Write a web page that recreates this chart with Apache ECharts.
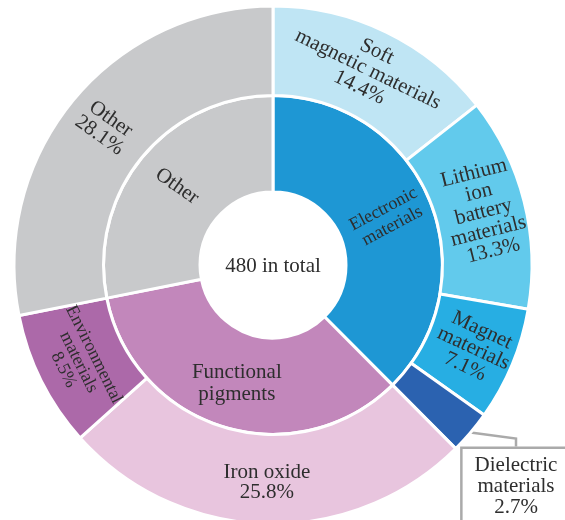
<!DOCTYPE html>
<html>
<head>
<meta charset="utf-8">
<script src="https://cdn.jsdelivr.net/npm/echarts@6/dist/echarts.min.js"></script>
<style>
  html, body { margin: 0; padding: 0; background: #fff; }
  #main { width: 565px; height: 520px; }
</style>
</head>
<body>
<div id="main"></div>
<script>
// data
const totalText = '480 in total';

const innerNames = ['Electronic\nmaterials', 'Functional\npigments', 'Other'];
const innerValues = [37.5, 34.3, 28.1];
const innerColors = ['#1e97d4', '#c287bb', '#c8c9cb'];

const outerNames = ['Soft\nmagnetic materials', 'Lithium\nion\nbattery\nmaterials', 'Magnet\nmaterials',
    'Dielectric\nmaterials', 'Iron oxide', 'Environmental\nmaterials', 'Other'];
const outerValues = [14.4, 13.3, 7.1, 2.7, 25.8, 8.5, 28.1];
const outerColors = ['#bfe5f4', '#62caec', '#27aee3', '#2b62b0', '#e8c5de', '#ac69a9', '#c8c9cb'];

// label rotation per slice (degrees or mode)
const innerRotate = [28, 0, -35];
const outerRotate = ['tangential', 'radial', -25, 0, 0, 'tangential', -35];
const innerFont = [18, 21, 21];
const outerFont = [21, 21, 21, 21, 21, 18, 21];

const font = 'Liberation Serif';
const textColor = '#2e2e2e';

const chart = echarts.init(document.getElementById('main'));

const innerData = innerNames.map((n, i) => ({
    name: n,
    value: innerValues[i],
    itemStyle: { color: innerColors[i] },
    label: { rotate: innerRotate[i], fontSize: innerFont[i], lineHeight: innerFont[i] + 1 }
}));

const outerData = outerNames.map((n, i) => {
    const item = {
        name: n,
        value: outerValues[i],
        itemStyle: { color: outerColors[i] },
        label: { rotate: outerRotate[i], fontSize: outerFont[i], lineHeight: outerFont[i] - 1 }
    };
    if (n.indexOf('Dielectric') === 0) {
        // callout box outside the ring
        item.label = {
            position: 'outside',
            rotate: 0,
            fontSize: 21,
            lineHeight: 21,
            backgroundColor: '#fff',
            borderColor: '#aaa',
            borderWidth: 2.5,
            padding: [6, 12, 14, 12]
        };
        item.labelLine = { show: true, length: 8, length2: 8, lineStyle: { color: '#aaa', width: 2.5 } };
    }
    return item;
});

const option = {
    animation: false,
    graphic: [{
        type: 'text',
        x: 273,
        y: 266,
        style: {
            text: totalText,
            font: '21px "' + font + '"',
            fill: textColor,
            textAlign: 'center',
            textVerticalAlign: 'middle'
        }
    }],
    series: [
        {
            type: 'pie',
            center: [273, 265],
            radius: [73, 169.5],
            startAngle: 90,
            clockwise: true,
            avoidLabelOverlap: false,
            silent: true,
            itemStyle: { borderColor: '#fff', borderWidth: 3 },
            label: {
                show: true,
                position: 'inside',
                formatter: '{b}',
                color: textColor,
                fontFamily: font
            },
            labelLine: { show: false },
            data: innerData
        },
        {
            type: 'pie',
            center: [273, 265],
            radius: [169.5, 259],
            startAngle: 90,
            clockwise: true,
            avoidLabelOverlap: false,
            silent: true,
            itemStyle: { borderColor: '#fff', borderWidth: 3 },
            label: {
                show: true,
                position: 'inside',
                formatter: '{b}\n{c}%',
                color: textColor,
                fontFamily: font
            },
            labelLine: { show: false },
            labelLayout: function (params) {
                if (params.dataIndex === 3) {
                    return { x: 516, y: 449, align: 'center', verticalAlign: 'top' };
                }
                return {};
            },
            data: outerData
        }
    ]
};

chart.setOption(option);
</script>
</body>
</html>
